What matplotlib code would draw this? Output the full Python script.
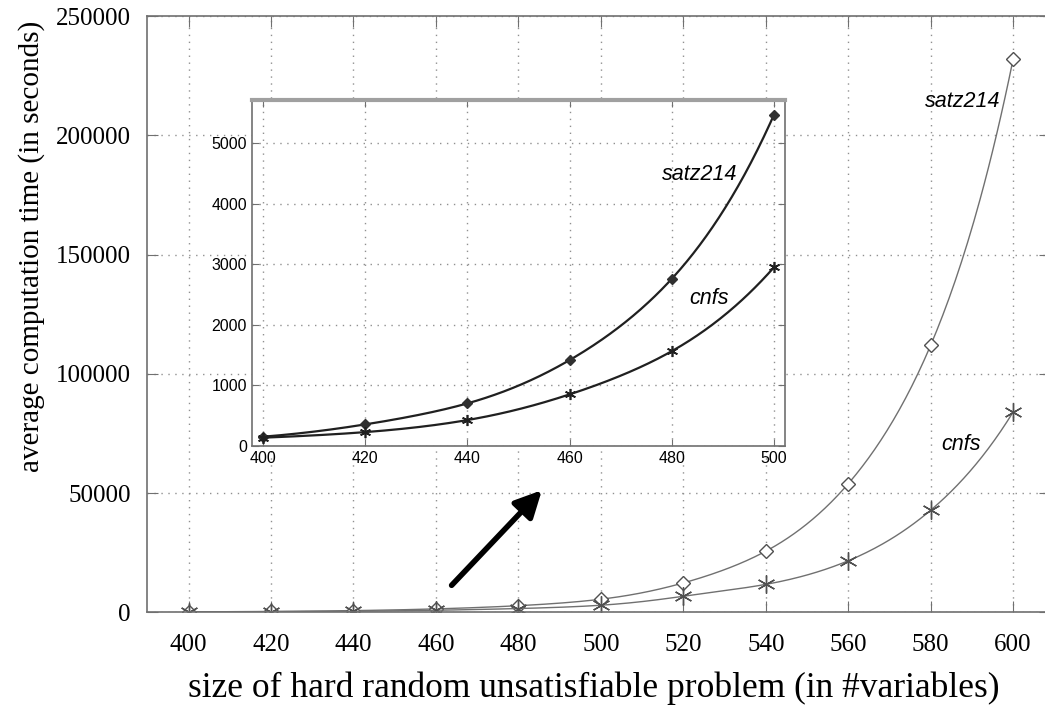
import numpy as np
import matplotlib
matplotlib.use("Agg")
import matplotlib.pyplot as plt

# problem sizes (#variables)
sizes = [400, 420, 440, 460, 480, 500, 520, 540, 560, 580, 600]
# average computation time in seconds
satz214 = [148, 351, 698, 1413, 2756, 5467, 12300, 25600, 53900, 112000, 232000]
cnfs = [132, 224, 423, 847, 1561, 2947, 6700, 11700, 21600, 42800, 84000]

main_xticks = [400, 420, 440, 460, 480, 500, 520, 540, 560, 580, 600]
main_yticks = [0, 50000, 100000, 150000, 200000, 250000]
inset_xticks = [400, 420, 440, 460, 480, 500]
inset_yticks = [0, 1000, 2000, 3000, 4000, 5000]


def smooth(x, y, n=400):
    # natural cubic spline through the points, done on log(y)
    x = np.asarray(x, float)
    ly = np.log(np.asarray(y, float))
    k = len(x)
    h = np.diff(x)
    A = np.zeros((k, k))
    b = np.zeros(k)
    A[0, 0] = A[-1, -1] = 1
    for i in range(1, k - 1):
        A[i, i - 1] = h[i - 1]
        A[i, i] = 2 * (h[i - 1] + h[i])
        A[i, i + 1] = h[i]
        b[i] = 6 * ((ly[i + 1] - ly[i]) / h[i] - (ly[i] - ly[i - 1]) / h[i - 1])
    m = np.linalg.solve(A, b)
    xs = np.linspace(x[0], x[-1], n)
    idx = np.clip(np.searchsorted(x, xs) - 1, 0, k - 2)
    t0 = x[idx]
    t1 = x[idx + 1]
    hh = t1 - t0
    ys = (m[idx] * (t1 - xs) ** 3 / (6 * hh) + m[idx + 1] * (xs - t0) ** 3 / (6 * hh)
          + (ly[idx] / hh - m[idx] * hh / 6) * (t1 - xs)
          + (ly[idx + 1] / hh - m[idx + 1] * hh / 6) * (xs - t0))
    return xs, np.exp(ys)


serif = "Liberation Serif"
sans = "Liberation Sans"
spine_col = "#707070"

fig = plt.figure(figsize=(10.45, 7.07), dpi=100)
ax = fig.add_axes([0.141, 0.134, 0.864, 0.843])

line_col = "#707070"
xs, ys = smooth(sizes, satz214)
ax.plot(xs, ys, color=line_col, lw=1.0)
ax.plot(sizes, satz214, ls="none", marker="D", ms=7.5, mfc="white", mec="#505050", mew=1.0)
xs, ys = smooth(sizes, cnfs)
ax.plot(xs, ys, color=line_col, lw=1.0)
ax.plot(sizes, cnfs, ls="none", marker=(6, 2, 0), ms=13, mec="#505050", mew=1.0)

ax.set_xlim(390, 609)
ax.set_ylim(0, 250000)
ax.set_xticks(main_xticks)
ax.set_yticks(main_yticks)
ax.set_xticklabels([str(v) for v in main_xticks], fontfamily=serif, fontsize=18)
ax.set_yticklabels([str(v) for v in main_yticks], fontfamily=serif, fontsize=18)
ax.tick_params(direction="in", length=8, top=True, right=True, color=spine_col)
ax.tick_params(axis="x", pad=16)
ax.tick_params(axis="y", pad=12)
ax.grid(True, ls=(0, (1, 4)), color="#909090", lw=1.0)
for s in ax.spines.values():
    s.set_color(spine_col)
    s.set_linewidth(1.2)
ax.set_xlabel("size of hard random unsatisfiable problem (in #variables)",
              fontfamily=serif, fontsize=25.5)
ax.set_ylabel("average computation time (in seconds)", fontfamily=serif, fontsize=21)
ax.xaxis.set_label_coords(0.494, -0.1)
ax.yaxis.set_label_coords(-0.1135, 0.614)

ax.text(578.5, 212000, "satz214", fontfamily=sans, fontstyle="italic", fontsize=15.5)
ax.text(582.5, 68000, "cnfs", fontfamily=sans, fontstyle="italic", fontsize=15.5)

ax.annotate("", xy=(485.7, 51200), xytext=(463.8, 11300),
            arrowprops=dict(arrowstyle="-|>,head_length=1.6,head_width=0.8",
                            color="black", lw=4, shrinkA=0, shrinkB=0))

# inset zoom on the small sizes
ins = fig.add_axes([0.2409, 0.3696, 0.5103, 0.489])
xs, ys = smooth(sizes[:6], satz214[:6])
ins.plot(xs, ys, color="#202020", lw=1.6)
ins.plot(sizes[:6], satz214[:6], ls="none", marker="D", ms=5, mfc="#303030", mec="#303030")
xs, ys = smooth(sizes[:6], cnfs[:6])
ins.plot(xs, ys, color="#202020", lw=1.6)
ins.plot(sizes[:6], cnfs[:6], ls="none", marker=(6, 2, 0), ms=8, mec="#202020", mew=1.2)

ins.set_xlim(397.85, 502.15)
ins.set_ylim(0, 5710)
ins.set_xticks(inset_xticks)
ins.set_yticks(inset_yticks)
ins.set_xticklabels([str(v) for v in inset_xticks], fontfamily=sans, fontsize=11.5)
ins.set_yticklabels([str(v) for v in inset_yticks], fontfamily=sans, fontsize=11.5)
ins.tick_params(direction="in", length=5, top=True, right=True, color=spine_col)
ins.grid(True, ls=(0, (1, 4)), color="#909090", lw=1.0)
for s in ins.spines.values():
    s.set_color(spine_col)
    s.set_linewidth(1.2)
ins.spines["top"].set_linewidth(3)
ins.spines["top"].set_color("#a0a0a0")

ins.text(478.0, 4380, "satz214", fontfamily=sans, fontstyle="italic", fontsize=15.5)
ins.text(483.4, 2345, "cnfs", fontfamily=sans, fontstyle="italic", fontsize=15.5)

fig.savefig("out.png", dpi=100)
